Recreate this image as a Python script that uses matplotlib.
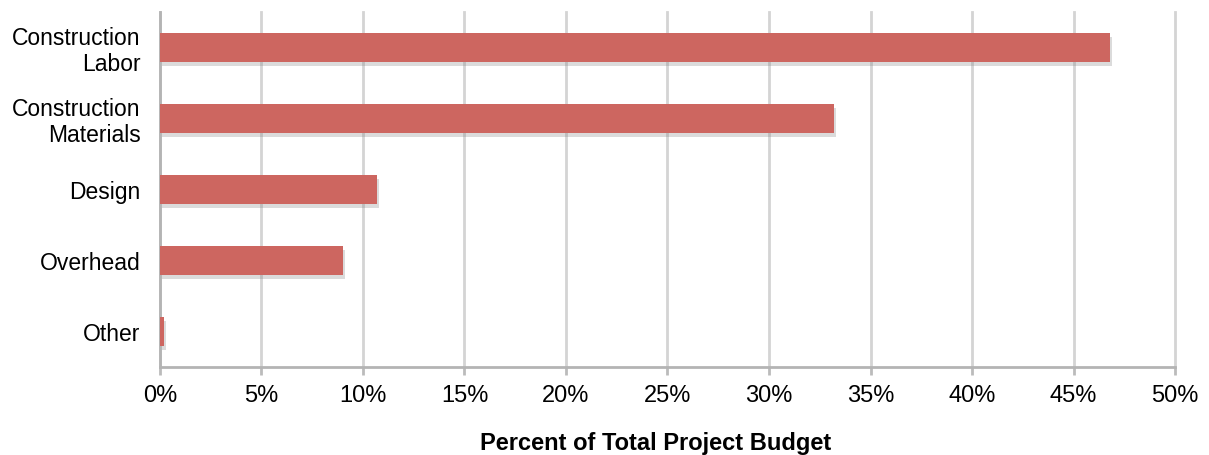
import matplotlib.pyplot as plt
import matplotlib.patheffects as pe
from matplotlib.ticker import FuncFormatter

categories = ['Construction\nLabor', 'Construction\nMaterials', 'Design', 'Overhead', 'Other']
percent = [46.8, 33.2, 10.7, 9.0, 0.2]
xticks = [0, 5, 10, 15, 20, 25, 30, 35, 40, 45, 50]

plt.rcParams['font.family'] = ['Liberation Sans', 'DejaVu Sans']

fig = plt.figure(figsize=(12.09, 4.55), dpi=100)
ax = fig.add_axes([0.1323, 0.1934, 0.8396, 0.7802])

bars = ax.barh(range(len(categories)), percent, height=0.4, color='#cd6660', zorder=3)
for b in bars:
  b.set_path_effects([pe.SimplePatchShadow(offset=(1.5, -3), shadow_rgbFace='#888888', alpha=0.3),
                      pe.Normal()])

ax.set_ylim(4.5, -0.5)
ax.set_xlim(0, 50)
ax.set_yticks(range(len(categories)))
ax.set_yticklabels(categories, fontsize=16.5, linespacing=1.15)
ax.set_xticks(xticks)
ax.xaxis.set_major_formatter(FuncFormatter(lambda v, p: '%d%%' % v))
ax.tick_params(axis='x', labelsize=17, length=6, width=2, color='#bbbbbb', pad=7)
ax.tick_params(axis='y', length=0, pad=14)

ax.grid(axis='x', color='#d4d4d4', linewidth=2, zorder=0)
for line in ax.get_xgridlines():
  line.set_clip_on(False)
for s in ['top', 'right']:
  ax.spines[s].set_visible(False)
for s in ['left', 'bottom']:
  ax.spines[s].set_color('#b4b4b4')
  ax.spines[s].set_linewidth(2)

ax.set_xlabel('Percent of Total Project Budget', fontsize=17, fontweight='bold', labelpad=18)
ax.xaxis.label.set_x(0.488)

fig.savefig('out.png')
